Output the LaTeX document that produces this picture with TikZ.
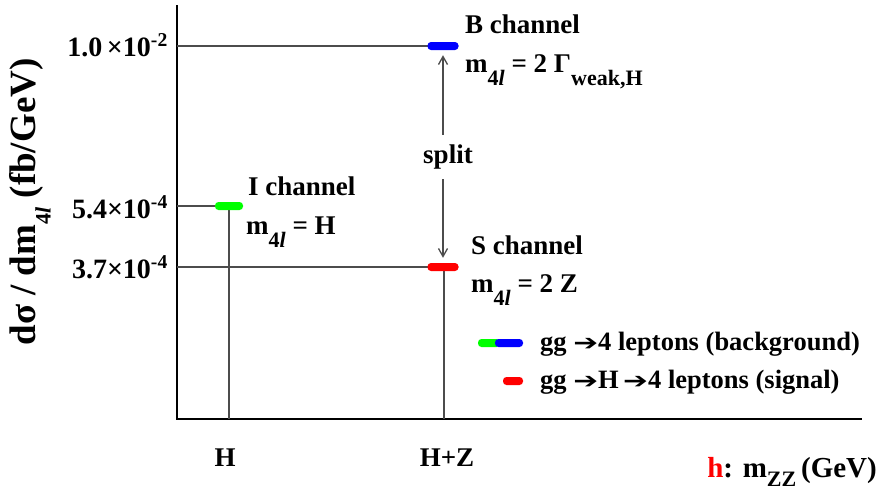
\documentclass[tikz,border=0pt]{standalone}
\usepackage{fontspec}
\setmainfont{Liberation Serif}
\newfontfamily\arrowfont{DejaVu Sans}
\usetikzlibrary{arrows.meta,positioning,calc}
\newcommand{\lowsub}[2][-13pt]{\raisebox{#1}{\fontsize{22}{22}\selectfont\bfseries #2}}
\newcommand{\hvy}{\scalebox{1.35}[1]{\arrowfont\fontsize{22}{22}\selectfont ➔}}

\begin{document}
\begin{tikzpicture}[x=1pt,y=-1pt,>={Straight Barb[length=8pt,width=9pt]},
  every node/.style={inner sep=0pt,font=\bfseries\fontsize{27}{30}\selectfont},
  axisline/.style={line width=2.6pt},
  guide/.style={draw=black!70,line width=1.3pt},
  chanbar/.style={fill=#1,rounded corners=3.5pt,minimum width=31pt,minimum height=8pt},
  lbl/.style={anchor=base west},
  ticklbl/.style={anchor=base east,font=\bfseries\fontsize{28}{30}\selectfont},
  legtext/.style={anchor=base west,font=\bfseries\fontsize{26.5}{28}\selectfont}]
\useasboundingbox (0,0) rectangle (891,491);
% axes
\coordinate (ytop) at (177,5);
\coordinate (origin) at (177,419);
\coordinate (xend) at (862,419);
\draw[axisline] (ytop) -- (origin) -- (xend);
% ends of the guide lines on the axes
\coordinate (yB) at (177,46);
\coordinate (yI) at (177,206);
\coordinate (yS) at (177,267);
\coordinate (xH) at (229,419);
\coordinate (xHZ) at (444,419);
\draw[guide] (yB) -- (444,46);
\draw[guide] (yI) -- (229,206) -- (xH);
\draw[guide] (yS) -- (444,267) -- (xHZ);
% channel bars
\node[chanbar=blue] (bbar) at (443,46) {};
\node[chanbar=green,minimum width=28pt] (ibar) at (229,206) {};
\node[chanbar=red] (sbar) at (443,267) {};
% split arrows
\node (split) at (448,157) {split};
\draw[guide,->,shorten <=10pt,shorten >=5pt] (split.north -| bbar) -- (bbar.south);
\draw[guide,->,shorten <=10pt,shorten >=5pt] (split.south -| sbar) -- (sbar.north);
% tick labels
\node[ticklbl] (tickB) at (168,56) {1.0\,×10\textsuperscript{-2}};
\node[ticklbl] (tickI) at (168,218) {5.4×10\textsuperscript{-4}};
\node[ticklbl] (tickS) at (168,278) {3.7×10\textsuperscript{-4}};
\node[anchor=base] (hlbl) at (225,466) {H};
\node[anchor=base] (hzlbl) at (447,466) {H+Z};
% channel labels
\node[lbl] (bname) at (465,33) {B channel};
\node[lbl] (bmass) at (465,72) {m\lowsub{4\textit{l}} = 2 Γ\lowsub{weak,H}};
\node[lbl] (iname) at (248,195) {I channel};
\node[lbl] (imass) at (246,234) {m\lowsub{4\textit{l}} = H};
\node[lbl] (sname) at (471,254) {S channel};
\node[lbl] (smass) at (471,292) {m\lowsub{4\textit{l}} = 2 Z};
% axis titles
\node[rotate=90,font=\bfseries\fontsize{37}{40}\selectfont] (ytitle) at (30,202)
  {dσ / dm\lowsub[-15pt]{4\textit{l}} (fb/GeV)};
\node[anchor=base east,font=\bfseries\fontsize{29}{32}\selectfont] (xtitle) at (877,477)
  {\textcolor{red}{h}: m\lowsub[-9pt]{ZZ}\,(GeV)};
% legend
\node[chanbar=green,minimum width=22pt] (lgreen) at (489,343) {};
\node[chanbar=blue,minimum width=28pt] (lblue) at (509,343) {};
\node[legtext] (bgtext) at (540,350) {gg \hvy4 leptons (background)};
\node[chanbar=red,minimum width=20pt] (lred) at (513,381) {};
\node[legtext] (sigtext) at (540,388) {gg \hvy H\,\hvy4 leptons (signal)};
\end{tikzpicture}
\end{document}
